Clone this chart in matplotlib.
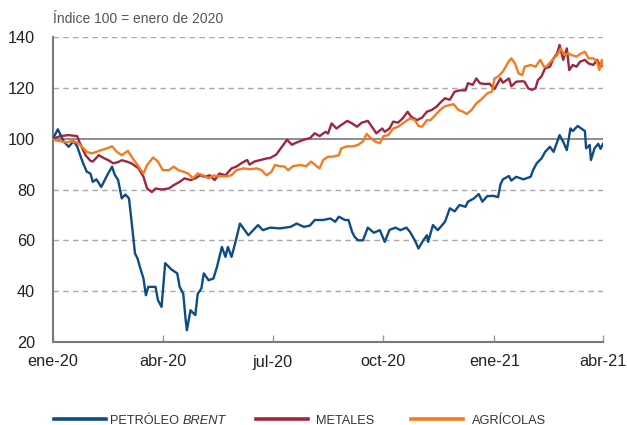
import numpy as np
import pandas as pd
import matplotlib
matplotlib.use("Agg")
import matplotlib.pyplot as plt
import matplotlib.dates as mdates
from matplotlib.lines import Line2D

# ---- data (days since 2020-01-01, index value) ----
brent_day = [0, 4, 9, 13, 17, 20, 22, 25, 28, 31, 33, 36, 40, 45, 49, 51, 54, 57, 60, 63,
             65, 68, 70, 72, 75, 77, 79, 85, 87, 90, 93, 96, 98, 103, 105, 108, 110, 111,
             114, 118, 120, 123, 125, 129, 133, 136, 140, 143, 145, 148, 151, 155, 158,
             162, 166, 170, 174, 180, 188, 197, 202, 208, 213, 217, 224, 230, 234, 237,
             242, 245, 248, 250, 253, 257, 261, 266, 271, 275, 279, 284, 288, 293, 296,
             300, 303, 307, 310, 311, 315, 319, 325, 329, 333, 337, 342, 344, 349, 353,
             356, 360, 365, 369, 371, 373, 378, 380, 384, 390, 396, 398, 401, 405, 408,
             412, 415, 418, 420, 423, 426, 429, 431, 435, 438, 441, 442, 445, 446, 449,
             452, 454, 456]
brent_val = [100, 103.7, 98.8, 96.8, 99, 97, 94.2, 90.3, 87, 86.3, 83, 84, 81, 85.7, 89, 86,
             83.7, 76.5, 78, 76.5, 68, 54.8, 53, 49.6, 45, 38.4, 41.7, 41.7, 36.5, 33.8, 51,
             49.6, 48.6, 47, 41.7, 39, 28.6, 24.6, 32.5, 30.6, 39, 41, 47, 44.3, 45, 49.6,
             57.4, 53.5, 57.4, 53.5, 58.8, 66.6, 64.6, 62, 64, 66, 64, 65, 64.7, 65.3, 66.6,
             65.3, 65.8, 68, 68, 68.6, 67.3, 69.3, 68, 68, 63.3, 61.4, 60, 60, 65, 63, 64,
             59.4, 64.1, 65, 64, 65, 63.3, 60, 56.8, 60, 62, 59.4, 66, 64, 67.3, 72.6, 71.4,
             73.9, 73.2, 75.2, 76.5, 78.2, 75.2, 77.4, 77.5, 77, 82, 84, 85.3, 83.5, 85, 84,
             85, 87.6, 90.3, 92.2, 94.8, 96.8, 94.8, 98.8, 101.4, 98.8, 95.5, 104, 103, 105,
             104, 103, 96.2, 97.5, 91.6, 96.2, 98, 96, 98]

metales_day = [0, 6, 13, 20, 22, 27, 31, 33, 38, 42, 46, 50, 54, 57, 61, 65, 71, 75, 78, 82,
               85, 90, 96, 100, 105, 109, 114, 118, 122, 126, 130, 134, 138, 143, 148, 152,
               156, 161, 163, 167, 172, 177, 180, 185, 191, 194, 198, 202, 208, 213, 217,
               221, 226, 228, 231, 235, 239, 244, 248, 252, 256, 261, 266, 268, 273, 275,
               279, 282, 286, 290, 294, 297, 302, 306, 310, 314, 318, 322, 325, 329, 333,
               337, 342, 344, 348, 351, 354, 358, 362, 366, 371, 373, 378, 380, 384, 389,
               391, 394, 397, 400, 402, 405, 408, 412, 415, 418, 420, 423, 426, 428, 431,
               434, 437, 441, 444, 448, 451, 454, 456]
metales_val = [100, 101, 101.4, 101, 98.5, 93.5, 91.3, 91, 93.5, 92.4, 91.5, 90.3, 90.8, 91.5,
               91, 90.3, 88.3, 85, 80.4, 79, 80.4, 80, 80.4, 81.7, 83, 84.4, 83.7, 84.4, 85.6,
               85, 85.6, 83.7, 86.3, 85.6, 88.3, 89, 90.3, 91.6, 89.8, 91, 91.6, 92.2, 92.4,
               93.7, 97.6, 99.6, 97.6, 98.5, 99.6, 100.2, 102.1, 101, 102.7, 102, 106, 104,
               105.4, 107, 106, 104.7, 106.3, 107, 103.6, 102.1, 104, 102.7, 104, 106.7, 106.3,
               108, 110.6, 108.6, 107.3, 108.3, 110.6, 111.3, 112.6, 114.6, 115.9, 115.3, 118.5,
               119, 119, 121.8, 121.2, 123.7, 121.8, 121.5, 121.6, 119.5, 123.7, 122, 123.7,
               120.6, 122.4, 122.6, 122.4, 119.8, 119.2, 119.8, 123, 124.5, 127.7, 128.3, 131.6,
               133.6, 136.9, 131, 135.5, 127, 129, 128.3, 130.3, 131, 129.6, 129, 131, 128.3, 129]

agricolas_day = [0, 6, 11, 15, 20, 24, 28, 32, 36, 40, 45, 49, 53, 57, 62, 67, 71, 75, 78, 83,
                 87, 91, 96, 100, 104, 108, 112, 116, 120, 125, 129, 133, 138, 144, 148, 152,
                 158, 163, 169, 173, 177, 181, 184, 188, 192, 195, 199, 205, 210, 214, 219,
                 221, 224, 228, 232, 237, 239, 244, 249, 253, 257, 260, 263, 267, 271, 274,
                 278, 282, 286, 290, 296, 300, 303, 306, 310, 313, 317, 321, 325, 329, 332,
                 336, 340, 343, 347, 351, 355, 360, 364, 366, 369, 373, 378, 380, 383, 386,
                 389, 391, 396, 400, 404, 407, 409, 414, 418, 421, 424, 427, 430, 434, 438,
                 441, 444, 448, 451, 453, 455, 456]
agricolas_val = [99.6, 99, 98.5, 99, 98.5, 96.8, 94.8, 94.2, 94.8, 95.5, 96.2, 97, 94.8, 93.5,
                 95.2, 91.6, 89, 86.3, 89.6, 92.6, 91, 87.6, 87.6, 89, 87.6, 87, 86.3, 84.4,
                 86.3, 85.5, 84.4, 85.5, 85.2, 85.2, 85.6, 87.6, 88.3, 88, 88.3, 87.6, 85.6,
                 86.9, 89.6, 89.2, 89, 87.6, 89.2, 89.6, 89.2, 91, 89, 88.3, 91.6, 92.9, 92.9,
                 93.5, 96.2, 97, 97, 97.6, 98.9, 101.9, 100.4, 98.9, 98.2, 101, 101.4, 104,
                 104.7, 106, 108, 107.3, 105, 104.7, 107.3, 107.3, 109.3, 111.3, 112.8, 113.2,
                 113.6, 111.3, 110.6, 109.7, 111.3, 113.9, 115.4, 117.8, 118.5, 123.7, 124.4,
                 126.4, 130.5, 131.6, 129.6, 125.7, 125, 128.3, 129, 128.3, 131, 128.3, 128.3,
                 131, 132.9, 135.5, 132.9, 133.6, 132.9, 132.3, 133.6, 134.2, 131.6, 131.6,
                 130.3, 127, 131, 129]

series_labels = ["PETRÓLEO ", "METALES", "AGRÍCOLAS"]
series_colors = ["#0E4C87", "#9E2640", "#F47B20"]
x_tick_dates = ["2020-01-01", "2020-04-01", "2020-07-01", "2020-10-01", "2021-01-01", "2021-04-01"]
x_tick_labels = ["ene-20", "abr-20", "jul-20", "oct-20", "ene-21", "abr-21"]
y_ticks = [20, 40, 60, 80, 100, 120, 140]

plt.rcParams["font.family"] = ["Liberation Sans", "DejaVu Sans"]

base = pd.Timestamp("2020-01-01")
def to_dates(days):
    return base + pd.to_timedelta(days, unit="D")

fig = plt.figure(figsize=(6.27, 4.25), dpi=100)
ax = fig.add_axes([53 / 627, 1 - 342 / 425, (603 - 53) / 627, (342 - 37) / 425])

for yv in [40, 60, 80, 120, 140]:
    ax.axhline(yv, color="#A8A8A8", lw=1.0, ls=(0, (4, 3)), zorder=1)
ax.axhline(100, color="#7A7A7A", lw=1.2, zorder=1)

data = [(brent_day, brent_val), (metales_day, metales_val), (agricolas_day, agricolas_val)]
for (d, v), c in zip(data, series_colors):
    ax.plot(to_dates(d), v, color=c, lw=1.7, zorder=3, solid_joinstyle="round")

ax.set_xlim(pd.Timestamp("2020-01-01"), pd.Timestamp("2021-04-01"))
ax.set_ylim(20, 140)
ax.set_yticks(y_ticks)
ax.set_xticks(pd.to_datetime(x_tick_dates))
ax.set_xticklabels(x_tick_labels)

for s in ["top", "right"]:
    ax.spines[s].set_visible(False)
for s in ["left", "bottom"]:
    ax.spines[s].set_color("#7A7A7A")
    ax.spines[s].set_linewidth(1.5)

ax.tick_params(axis="y", length=0, pad=13, labelsize=11.7, labelcolor="#222222")
ax.tick_params(axis="x", direction="in", length=5, width=1, color="#9A9A9A",
               pad=9, labelsize=11.7, labelcolor="#222222")

fig.text(53 / 627, 1 - 19 / 425, "Índice 100 = enero de 2020", fontsize=10,
         color="#555555", va="center", ha="left")

# ---- legend (manual) ----
narrow = ["Liberation Sans Narrow", "Liberation Sans", "DejaVu Sans"]
line_x = [(54, 106), (256, 308), (411, 463)]
text_x = [110, 316, 472]
target_w = 1.1 * (107 + 53 + 65)  # reference text widths, slightly enlarged
ly = 1 - 419 / 425
ty = 1 - 423.5 / 425

renderer = fig.canvas.get_renderer()
trial = 11.0
tmp = [fig.text(0, 0, s, fontsize=trial, family=narrow) for s in
       ["PETRÓLEO ", "BRENT", "METALES", "AGRÍCOLAS"]]
tmp[1].set_style("italic")
w = sum(t.get_window_extent(renderer).width for t in tmp)
for t in tmp:
    t.remove()
fs = trial * target_w / w

for (x0, x1), tx, lab, c in zip(line_x, text_x, series_labels, series_colors):
    fig.add_artist(Line2D([x0 / 627, x1 / 627], [ly, ly], color=c, lw=2.6,
                          transform=fig.transFigure))
    t = fig.text(tx / 627, ty, lab, fontsize=fs, family=narrow, color="#333333",
                 va="baseline", ha="left")
    if lab.startswith("PETR"):
        bb = t.get_window_extent(renderer)
        fig.text(bb.x1 / fig.bbox.width, ty, "BRENT", fontsize=fs, family=narrow,
                 style="italic", color="#333333", va="baseline", ha="left")

fig.savefig("out.png", dpi=100)
